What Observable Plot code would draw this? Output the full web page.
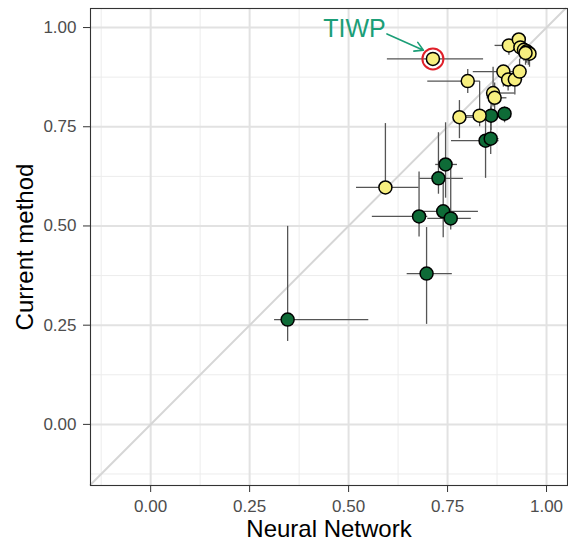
<!DOCTYPE html>
<html>
<head>
<meta charset="utf-8">
<script src="https://cdn.jsdelivr.net/npm/d3@7"></script>
<script src="https://cdn.jsdelivr.net/npm/@observablehq/plot@0.6"></script>
<style>
  html, body { margin: 0; padding: 0; background: white; }
</style>
</head>
<body>
<div id="chart"></div>
<script>
// Group of each study / model
const group = [
  "green","green","green","green","green","green","green","green","green","green","green",
  "yellow","yellow","yellow","yellow","yellow","yellow","yellow","yellow","yellow","yellow",
  "yellow","yellow","yellow","yellow","yellow","yellow","yellow","yellow","yellow"
];
const labels = [
  "","","","","","","","","","","",
  "","TIWP","","","","","","","","","","","","","","","","",""
];
// Neural Network (x) estimate and interval
const nn = [0.346,0.697,0.678,0.739,0.758,0.727,0.745,0.846,0.859,0.860,0.894,
            0.593,0.713,0.801,0.780,0.831,0.865,0.869,0.891,0.903,0.920,
            0.932,0.905,0.930,0.934,0.943,0.950,0.954,0.957,0.947];
const nnLo = [0.313,0.648,0.560,0.686,0.700,0.680,0.720,0.760,0.840,0.840,0.880,
              0.520,0.598,0.700,0.765,0.790,0.850,0.850,0.815,0.890,0.900,
              0.910,0.870,0.920,0.920,0.930,0.940,0.945,0.950,0.935];
const nnHi = [0.551,0.762,0.700,0.828,0.810,0.790,0.775,0.880,0.880,0.880,0.910,
              0.678,0.841,0.833,0.820,0.860,0.920,0.900,0.910,0.930,0.940,
              0.950,0.920,0.945,0.950,0.955,0.960,0.962,0.965,0.958];
// Current method (y) estimate and interval
const cur = [0.264,0.380,0.524,0.537,0.519,0.620,0.655,0.715,0.720,0.778,0.783,
             0.597,0.921,0.865,0.774,0.778,0.835,0.823,0.889,0.869,0.869,
             0.889,0.955,0.970,0.950,0.944,0.940,0.937,0.934,0.936];
const curLo = [0.209,0.252,0.472,0.470,0.490,0.580,0.570,0.620,0.680,0.740,0.760,
               0.590,0.910,0.834,0.720,0.750,0.800,0.790,0.850,0.840,0.830,
               0.860,0.930,0.955,0.920,0.915,0.910,0.905,0.900,0.905];
const curHi = [0.499,0.496,0.636,0.630,0.660,0.735,0.760,0.780,0.800,0.820,0.800,
               0.758,0.930,0.894,0.816,0.864,0.900,0.860,0.905,0.900,0.890,
               0.920,0.970,0.980,0.960,0.955,0.950,0.950,0.948,0.950];

const majorTicks = [0, 0.25, 0.5, 0.75, 1];
const minorTicks = [-0.125, 0.125, 0.375, 0.625, 0.875];
const xDomain = [-0.152, 1.053];
const yDomain = [-0.154, 1.048];

const fillColor = {green: "#0e6b37", yellow: "#f7ef7f"};

const data = nn.map((x, i) => ({
  x, y: cur[i], xlo: nnLo[i], xhi: nnHi[i], ylo: curLo[i], yhi: curHi[i],
  group: group[i], label: labels[i]
}));
const greens = data.filter(d => d.group === "green");
const yellows = data.filter(d => d.group === "yellow");
const tiwp = data.filter(d => d.label === "TIWP");

// annotation (label & arrow) positions, data units
const annText = [{x: 0.515, y: 0.997, text: "TIWP"}];
const annArrow = [{x1: 0.597, y1: 0.984, x2: 0.689, y2: 0.943}];

const diag = [{v: Math.max(xDomain[0], yDomain[0])}, {v: Math.min(xDomain[1], yDomain[1])}];

const font = "'Liberation Sans', Arial, Helvetica, sans-serif";

const chart = Plot.plot({
  width: 568,
  height: 542,
  marginLeft: 90,
  marginRight: 1,
  marginTop: 8,
  marginBottom: 57,
  style: {fontFamily: font, background: "white"},
  x: {domain: xDomain},
  y: {domain: yDomain},
  marks: [
    Plot.gridX(minorTicks, {stroke: "#ececec", strokeOpacity: 1, strokeWidth: 1}),
    Plot.gridY(minorTicks, {stroke: "#ececec", strokeOpacity: 1, strokeWidth: 1}),
    Plot.gridX(majorTicks, {stroke: "#e2e2e2", strokeOpacity: 1, strokeWidth: 2}),
    Plot.gridY(majorTicks, {stroke: "#e2e2e2", strokeOpacity: 1, strokeWidth: 2}),
    Plot.line(diag, {x: "v", y: "v", stroke: "#d6d6d6", strokeWidth: 2}),
    Plot.ruleY(data, {y: "y", x1: "xlo", x2: "xhi", stroke: "#555", strokeWidth: 1.3}),
    Plot.ruleX(data, {x: "x", y1: "ylo", y2: "yhi", stroke: "#555", strokeWidth: 1.3}),
    Plot.dot(greens, {x: "x", y: "y", r: 6.5, fill: d => fillColor[d.group], stroke: "black", strokeWidth: 1.5}),
    Plot.dot(yellows, {x: "x", y: "y", r: 6.5, fill: d => fillColor[d.group], stroke: "black", strokeWidth: 1.5}),
    Plot.dot(tiwp, {x: "x", y: "y", r: 10.5, fill: "none", stroke: "#e0202a", strokeWidth: 2}),
    Plot.arrow(annArrow, {x1: "x1", y1: "y1", x2: "x2", y2: "y2", stroke: "#1b9e77", strokeWidth: 1.6, headLength: 9}),
    Plot.text(annText, {x: "x", y: "y", text: "text", fill: "#1b9e77", fontSize: 25}),
    Plot.frame({stroke: "#333", strokeWidth: 1.1}),
    Plot.axisX(majorTicks, {tickFormat: d => d.toFixed(2), tickSize: 7, tickPadding: 7, fontSize: 17, color: "#333", fill: "#4d4d4d", label: null}),
    Plot.axisY(majorTicks, {tickFormat: d => d.toFixed(2), tickSize: 7, tickPadding: 7, fontSize: 17, color: "#333", fill: "#4d4d4d", label: null}),
    Plot.text(["Neural Network"], {frameAnchor: "bottom", lineAnchor: "middle", textAnchor: "middle", dy: 44, text: d => d, fontSize: 24, fill: "black"}),
    Plot.text(["Current method"], {frameAnchor: "left", lineAnchor: "middle", textAnchor: "middle", dx: -65, rotate: -90, text: d => d, fontSize: 24, fill: "black"})
  ]
});
document.getElementById("chart").appendChild(chart);
</script>
</body>
</html>
